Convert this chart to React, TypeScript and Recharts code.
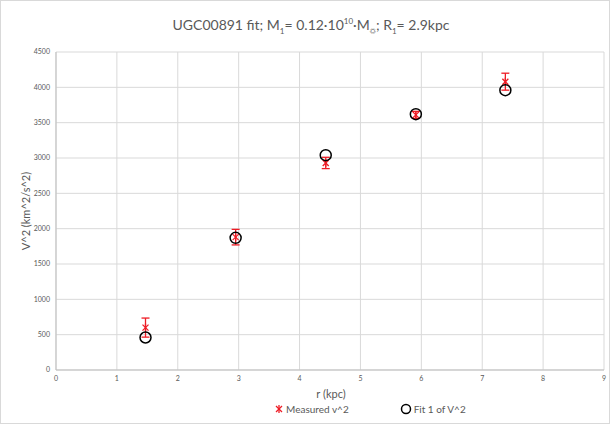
import { ScatterChart, Scatter, XAxis, YAxis, CartesianGrid, ErrorBar } from "recharts";

const radius = [1.47, 2.95, 4.43, 5.91, 7.38];
const measured = [600, 1880, 2930, 3610, 4080];
const measuredErr = [135, 110, 80, 50, 120];
const fitted = [460, 1870, 3040, 3620, 3960];
const xTicks = [0, 1, 2, 3, 4, 5, 6, 7, 8, 9];
const yTicks = [0, 500, 1000, 1500, 2000, 2500, 3000, 3500, 4000, 4500];

const measuredData = radius.map((r, i) => ({ r, v: measured[i], err: measuredErr[i] }));
const fitData = radius.map((r, i) => ({ r, v: fitted[i] }));

const RED = "#ee1c25";
const FONT = "Lato, 'Open Sans', sans-serif";
const GREY_TEXT = "#595959";

const StarShape = (props: any) => {
  const { cx, cy } = props;
  const s = 3;
  return (
    <g stroke={RED} strokeWidth={1.3}>
      <line x1={cx - s} y1={cy - s} x2={cx + s} y2={cy + s} />
      <line x1={cx - s} y1={cy + s} x2={cx + s} y2={cy - s} />
      <line x1={cx} y1={cy - 4} x2={cx} y2={cy + 4} />
    </g>
  );
};

const CircleShape = (props: any) => {
  const { cx, cy } = props;
  return <circle cx={cx} cy={cy} r={5.5} fill="none" stroke="#000" strokeWidth={1.5} />;
};

export default function App() {
  return (
    <div
      style={{
        position: "absolute",
        left: 0,
        top: 0,
        width: 608,
        height: 422,
        border: "1px solid #d9d9d9",
        background: "#fff",
        fontFamily: FONT,
      }}
    >
      <div
        style={{
          position: "absolute",
          top: 15,
          left: 0,
          width: 620,
          textAlign: "center",
          fontSize: 14,
          color: GREY_TEXT,
          whiteSpace: "nowrap",
        }}
      >
        UGC00891 fit; M<sub style={{ fontSize: 8 }}>1</sub>= 0.12·10<sup style={{ fontSize: 8 }}>10</sup>·M
        <sub style={{ fontSize: 8 }}>☼</sub>; R<sub style={{ fontSize: 8 }}>1</sub>= 2.9kpc
      </div>

      <ScatterChart width={608} height={422} margin={{ top: 51, right: 5, left: 0, bottom: 33 }}>
        <CartesianGrid stroke="#d9d9d9" />
        <XAxis
          type="number"
          dataKey="r"
          domain={[0, 9]}
          ticks={xTicks}
          tickLine={false}
          tickSize={0}
          tickMargin={6}
          height={20}
          axisLine={{ stroke: "#bfbfbf" }}
          tick={{ fontSize: 7, fill: GREY_TEXT, fontFamily: FONT }}
        />
        <YAxis
          type="number"
          dataKey="v"
          domain={[0, 4500]}
          ticks={yTicks}
          tickLine={false}
          tickSize={0}
          tickMargin={6}
          width={55}
          axisLine={{ stroke: "#bfbfbf" }}
          tick={{ fontSize: 7, fill: GREY_TEXT, fontFamily: FONT }}
        />
        <Scatter data={measuredData} shape={<StarShape />} isAnimationActive={false}>
          <ErrorBar dataKey="err" direction="y" width={4} stroke={RED} strokeWidth={1.3} />
        </Scatter>
        <Scatter data={fitData} shape={<CircleShape />} isAnimationActive={false} />
      </ScatterChart>

      <div
        style={{
          position: "absolute",
          left: 24,
          top: 210,
          transform: "translate(-50%, -50%) rotate(-90deg)",
          fontSize: 11,
          color: GREY_TEXT,
          whiteSpace: "nowrap",
        }}
      >
        V^2 (km^2/s^2)
      </div>
      <div
        style={{
          position: "absolute",
          left: 330,
          top: 392,
          transform: "translate(-50%, -50%)",
          fontSize: 11,
          color: GREY_TEXT,
          whiteSpace: "nowrap",
        }}
      >
        r (kpc)
      </div>

      <div
        style={{
          position: "absolute",
          top: 402,
          left: 273,
          display: "flex",
          alignItems: "center",
          fontSize: 10,
          color: GREY_TEXT,
          whiteSpace: "nowrap",
        }}
      >
        <svg width={10} height={10} style={{ marginRight: 2 }}>
          <StarShape cx={5} cy={5} />
        </svg>
        <span>Measured v^2</span>
        <svg width={12} height={12} style={{ marginLeft: 51, marginRight: 2 }}>
          <circle cx={6} cy={6} r={4.5} fill="none" stroke="#000" strokeWidth={1.5} />
        </svg>
        <span>Fit 1 of V^2</span>
      </div>
    </div>
  );
}
